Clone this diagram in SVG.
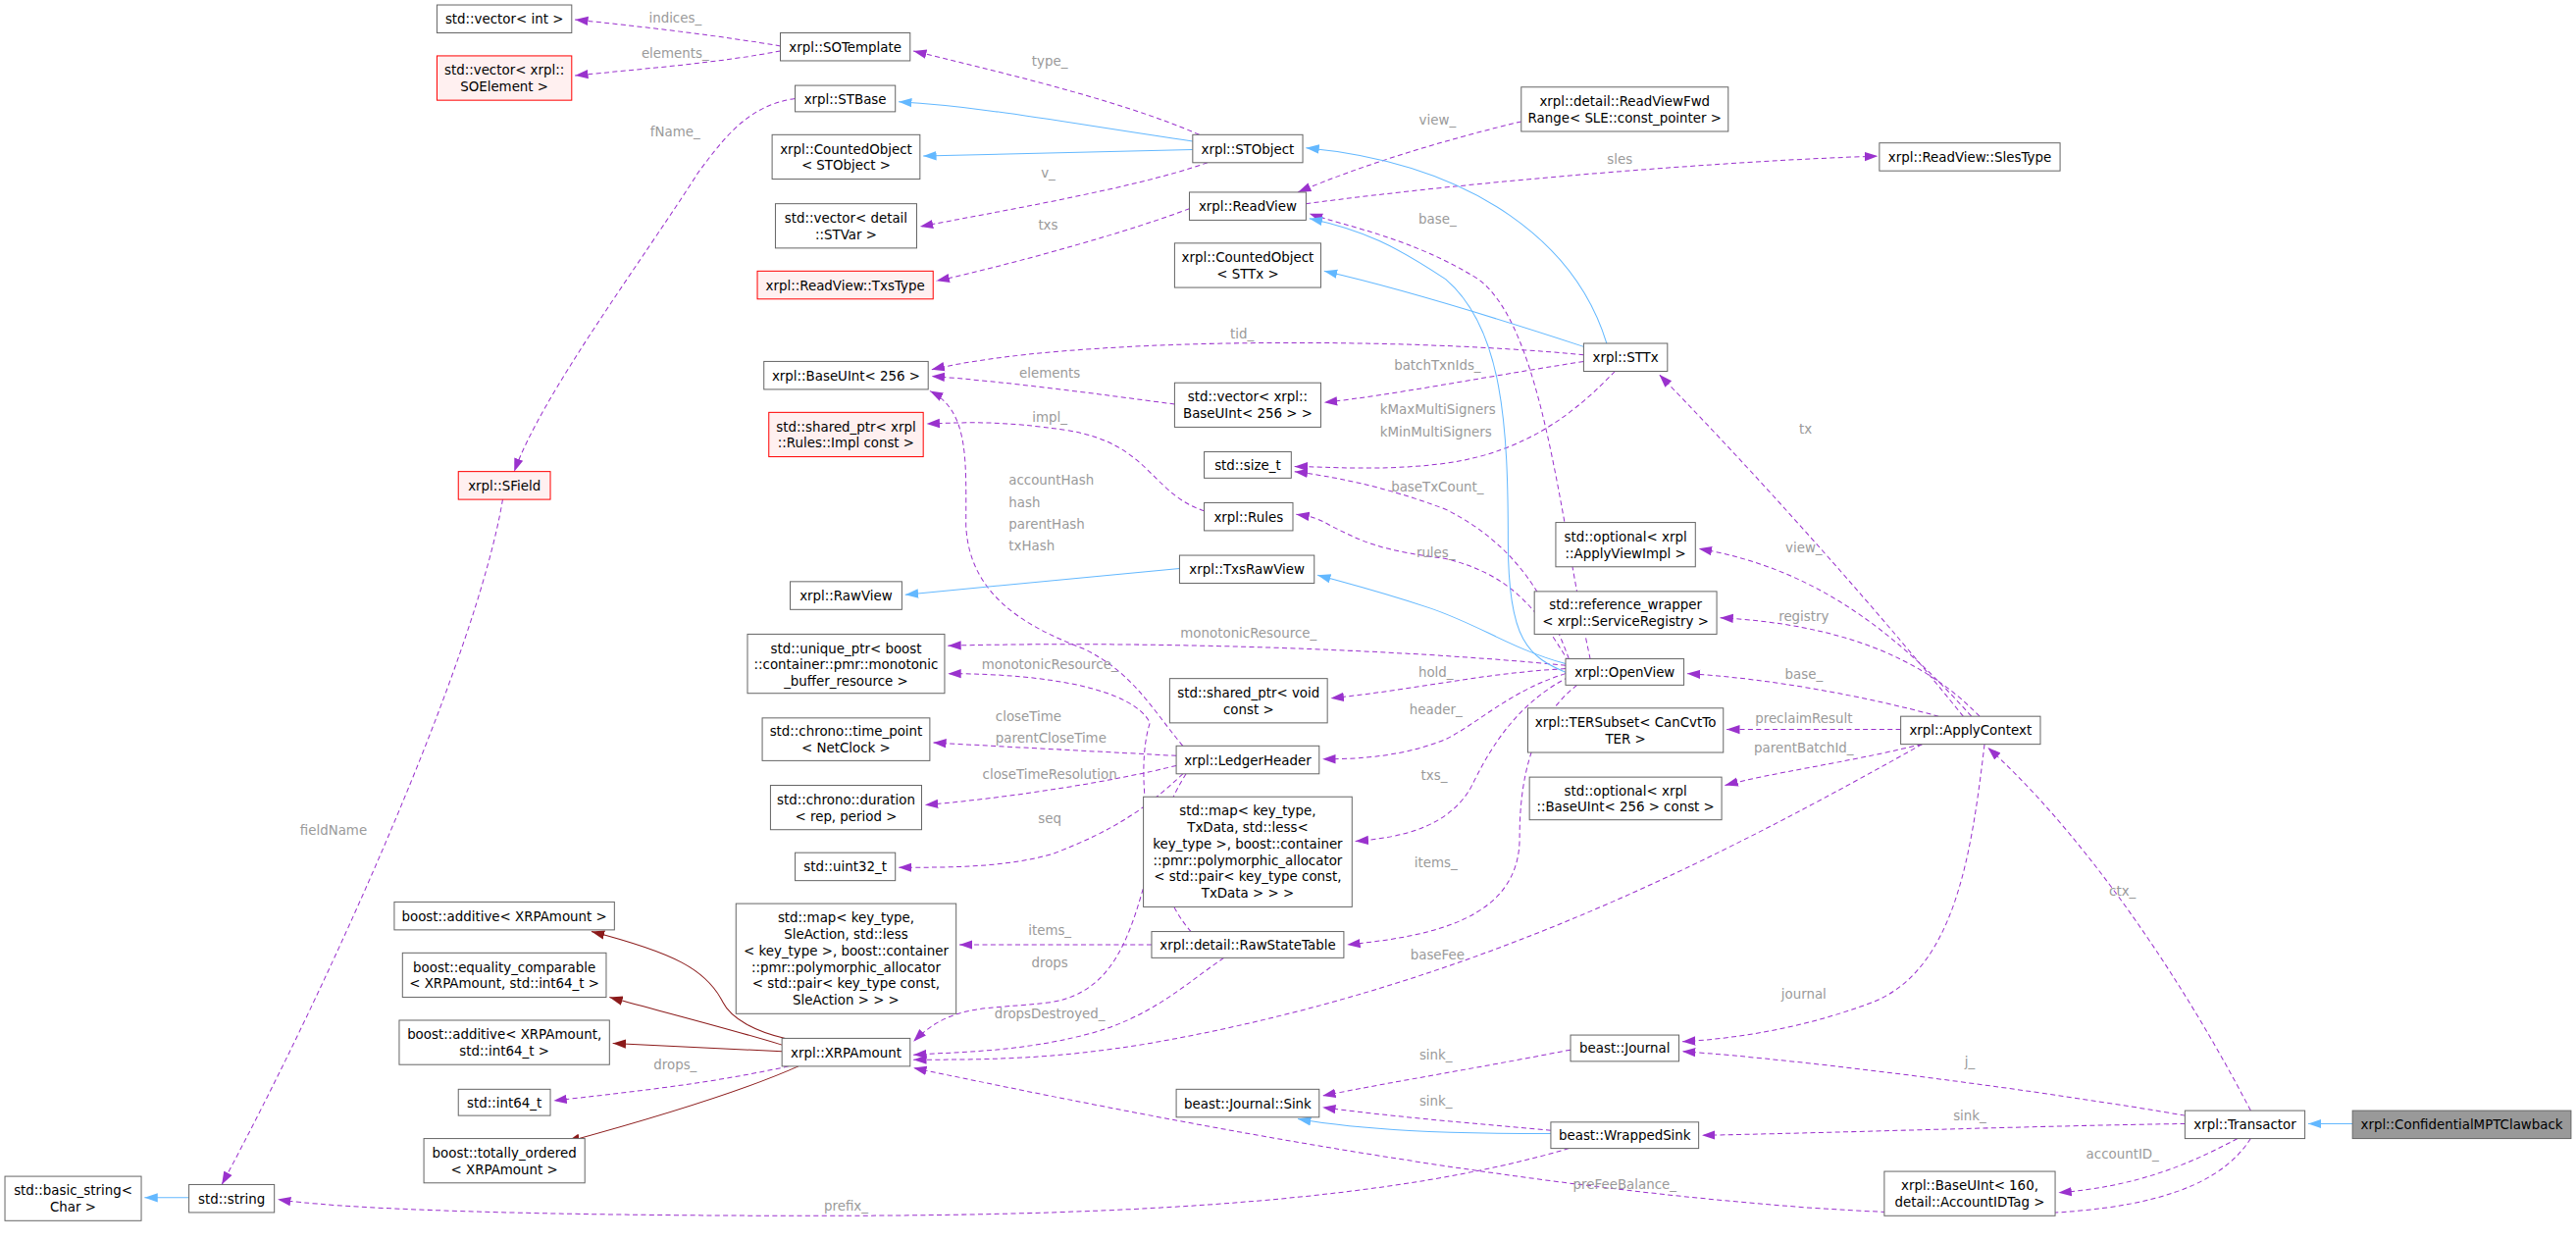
<svg xmlns="http://www.w3.org/2000/svg" width="2626" height="1265" viewBox="0 0 2626 1265">
<style>
.n rect{fill:#fff;stroke:#666;stroke-width:0.6}
.n.r rect{fill:#FFF0F0;stroke:#FF0000}
.n.g rect{fill:#999}
.n text{font-family:"DejaVu Sans",sans-serif;font-size:8px;fill:#000;text-anchor:middle}
.e path{fill:none;stroke-width:0.6}
.p{stroke:#9A32CD;stroke-dasharray:3,2}
.b{stroke:#63B8FF}
.d{stroke:#8B1A1A}
.l text{font-family:"DejaVu Sans",sans-serif;font-size:8px;fill:#9A9A9A;text-anchor:middle}
</style>
<defs>
<marker id="ap" markerUnits="userSpaceOnUse" viewBox="0 0 10 10" markerWidth="8" markerHeight="8" refX="10" refY="5" orient="auto"><path d="M0,1.5 L10,5 L0,8.5 z" fill="#9A32CD"/></marker>
<marker id="ab" markerUnits="userSpaceOnUse" viewBox="0 0 10 10" markerWidth="8" markerHeight="8" refX="10" refY="5" orient="auto"><path d="M0,1.5 L10,5 L0,8.5 z" fill="#63B8FF"/></marker>
<marker id="ad" markerUnits="userSpaceOnUse" viewBox="0 0 10 10" markerWidth="8" markerHeight="8" refX="10" refY="5" orient="auto"><path d="M0,1.5 L10,5 L0,8.5 z" fill="#8B1A1A"/></marker>
</defs>
<rect width="2626" height="1265" fill="#fff"/>
<g transform="scale(1.6747)">
<g id="edges" class="e">
<path class="p" marker-end="url(#ap)" d="M475,28 C440,22 390,16 350,12"/>
<path class="p" marker-end="url(#ap)" d="M475,31 C440,38 390,42 350,46"/>
<path class="p" marker-end="url(#ap)" d="M484,60 C455,64 440,85 425,105 C390,160 330,240 313,287"/>
<path class="p" marker-end="url(#ap)" d="M306,304 C290,400 200,600 135,721"/>
<path class="p" marker-end="url(#ap)" d="M730,82 C680,60 600,42 556,31"/>
<path class="p" marker-end="url(#ap)" d="M735,99 C690,115 600,130 560,138"/>
<path class="p" marker-end="url(#ap)" d="M724,127 C690,140 620,160 570,171"/>
<path class="p" marker-end="url(#ap)" d="M795,124 C900,110 1050,98 1143,95"/>
<path class="p" marker-end="url(#ap)" d="M926,74 C880,85 830,100 790,117"/>
<path class="p" marker-end="url(#ap)" d="M968,401 C950,320 940,200 900,170 C860,145 820,138 797,130"/>
<path class="p" marker-end="url(#ap)" d="M964,216 C850,205 650,205 567,225"/>
<path class="p" marker-end="url(#ap)" d="M964,220 C900,230 850,240 806,245"/>
<path class="p" marker-end="url(#ap)" d="M983,226 C960,250 930,275 880,282 C840,287 810,284 788,284"/>
<path class="p" marker-end="url(#ap)" d="M715,246 C670,240 610,232 567,229"/>
<path class="p" marker-end="url(#ap)" d="M733,311 C700,300 700,270 650,262 C610,256 590,257 564,258"/>
<path class="p" marker-end="url(#ap)" d="M720,454 C700,430 690,410 660,395 C620,380 590,360 588,320 C588,280 590,250 566,238"/>
<path class="p" marker-end="url(#ap)" d="M955,401 C940,360 920,330 880,310 C840,295 810,290 788,287"/>
<path class="p" marker-end="url(#ap)" d="M955,403 C935,370 920,350 880,340 C840,335 830,330 810,320 C800,314 795,314 789,313"/>
<path class="p" marker-end="url(#ap)" d="M953,405 C850,395 700,390 577,393"/>
<path class="p" marker-end="url(#ap)" d="M725,567 C700,540 690,470 700,440 C690,420 640,410 577,410"/>
<path class="p" marker-end="url(#ap)" d="M953,407 C900,410 860,420 810,425"/>
<path class="p" marker-end="url(#ap)" d="M953,410 C920,420 900,440 880,450 C850,462 820,462 805,462"/>
<path class="p" marker-end="url(#ap)" d="M716,460 C680,458 620,455 568,452"/>
<path class="p" marker-end="url(#ap)" d="M716,466 C680,475 620,485 563,490"/>
<path class="p" marker-end="url(#ap)" d="M720,471 C700,490 680,505 640,520 C610,528 580,528 547,528"/>
<path class="p" marker-end="url(#ap)" d="M955,412 C920,430 905,460 895,480 C880,505 850,510 825,512"/>
<path class="p" marker-end="url(#ap)" d="M960,417 C930,440 925,480 925,510 C925,560 870,570 820,575"/>
<path class="p" marker-end="url(#ap)" d="M701,575 L584,575"/>
<path class="p" marker-end="url(#ap)" d="M722,471 C690,520 700,600 640,610 C600,615 580,610 556,634"/>
<path class="p" marker-end="url(#ap)" d="M745,583 C720,600 700,620 660,630 C620,640 590,640 556,642"/>
<path class="p" marker-end="url(#ap)" d="M1170,453 C1050,520 900,600 700,635 C640,645 600,645 556,645"/>
<path class="p" marker-end="url(#ap)" d="M480,649 C430,660 380,665 337,670"/>
<path class="p" marker-end="url(#ap)" d="M955,699 C850,730 700,740 500,740 C300,740 200,735 169,730"/>
<path class="p" marker-end="url(#ap)" d="M1370,693 C1340,740 1250,745 1100,735 C900,720 700,680 556,650"/>
<path class="p" marker-end="url(#ap)" d="M1195,436 C1150,380 1080,300 1010,228"/>
<path class="p" marker-end="url(#ap)" d="M1200,436 C1150,380 1100,345 1034,334"/>
<path class="p" marker-end="url(#ap)" d="M1205,436 C1170,400 1120,380 1047,376"/>
<path class="p" marker-end="url(#ap)" d="M1180,436 C1140,425 1080,413 1027,410"/>
<path class="p" marker-end="url(#ap)" d="M1157,444 L1051,444"/>
<path class="p" marker-end="url(#ap)" d="M1170,453 C1120,465 1080,470 1050,478"/>
<path class="p" marker-end="url(#ap)" d="M1208,453 C1200,520 1190,590 1140,610 C1100,625 1060,632 1024,634"/>
<path class="p" marker-end="url(#ap)" d="M956,639 C900,650 850,658 805,667"/>
<path class="p" marker-end="url(#ap)" d="M944,688 C900,684 850,680 805,674"/>
<path class="p" marker-end="url(#ap)" d="M1370,676 C1320,580 1260,500 1210,455"/>
<path class="p" marker-end="url(#ap)" d="M1330,679 C1250,665 1100,645 1024,640"/>
<path class="p" marker-end="url(#ap)" d="M1330,684 C1250,685 1100,690 1036,691"/>
<path class="p" marker-end="url(#ap)" d="M1362,693 C1330,710 1300,722 1253,726"/>
<path class="b" marker-end="url(#ab)" d="M726,86 C650,75 600,65 547,62"/>
<path class="b" marker-end="url(#ab)" d="M726,91 L562,95"/>
<path class="b" marker-end="url(#ab)" d="M978,209 C960,150 900,100 795,90"/>
<path class="b" marker-end="url(#ab)" d="M964,211 C900,190 850,175 806,165"/>
<path class="b" marker-end="url(#ab)" d="M955,410 C930,400 918,390 918,330 C918,260 915,200 880,170 C850,150 830,140 797,133"/>
<path class="b" marker-end="url(#ab)" d="M953,404 C920,395 900,380 870,370 C840,360 820,355 802,350"/>
<path class="b" marker-end="url(#ab)" d="M718,346 L551,362"/>
<path class="b" marker-end="url(#ab)" d="M944,690 C880,690 830,688 790,681"/>
<path class="b" marker-end="url(#ab)" d="M1432,684 L1405,684"/>
<path class="b" marker-end="url(#ab)" d="M115,729 L88,729"/>
<path class="d" marker-end="url(#ad)" d="M478,632 C460,628 445,620 440,610 C430,590 410,580 360,567"/>
<path class="d" marker-end="url(#ad)" d="M476,636 C440,625 400,615 371,607"/>
<path class="d" marker-end="url(#ad)" d="M476,640 L373,635"/>
<path class="d" marker-end="url(#ad)" d="M486,649 C450,665 400,680 345,695"/>
</g>
<g id="labels" class="l">
<text x="411" y="14">indices_</text>
<text x="411" y="35">elements_</text>
<text x="411" y="83">fName_</text>
<text x="203" y="508">fieldName</text>
<text x="639" y="40">type_</text>
<text x="638" y="108">v_</text>
<text x="638" y="140">txs</text>
<text x="986" y="100">sles</text>
<text x="875" y="76">view_</text>
<text x="875" y="136">base_</text>
<text x="756" y="206">tid_</text>
<text x="875" y="225">batchTxnIds_</text>
<text x="840" y="252" style="text-anchor:start">kMaxMultiSigners</text>
<text x="840" y="266" style="text-anchor:start">kMinMultiSigners</text>
<text x="639" y="230">elements</text>
<text x="639" y="257">impl_</text>
<text x="614" y="295" style="text-anchor:start">accountHash</text>
<text x="614" y="309" style="text-anchor:start">hash</text>
<text x="614" y="322" style="text-anchor:start">parentHash</text>
<text x="614" y="335" style="text-anchor:start">txHash</text>
<text x="875" y="299">baseTxCount_</text>
<text x="874" y="339">rules_</text>
<text x="760" y="388">monotonicResource_</text>
<text x="639" y="407">monotonicResource_</text>
<text x="874" y="412">hold_</text>
<text x="874" y="435">header_</text>
<text x="606" y="439" style="text-anchor:start">closeTime</text>
<text x="606" y="452" style="text-anchor:start">parentCloseTime</text>
<text x="639" y="474">closeTimeResolution</text>
<text x="639" y="501">seq</text>
<text x="873" y="475">txs_</text>
<text x="874" y="528">items_</text>
<text x="639" y="569">items_</text>
<text x="639" y="589">drops</text>
<text x="639" y="620">dropsDestroyed_</text>
<text x="875" y="584">baseFee</text>
<text x="411" y="651">drops_</text>
<text x="515" y="737">prefix_</text>
<text x="989" y="724">preFeeBalance_</text>
<text x="1099" y="264">tx</text>
<text x="1098" y="336">view_</text>
<text x="1098" y="378">registry</text>
<text x="1098" y="413">base_</text>
<text x="1098" y="440">preclaimResult</text>
<text x="1098" y="458">parentBatchId_</text>
<text x="1098" y="608">journal</text>
<text x="874" y="645">sink_</text>
<text x="874" y="673">sink_</text>
<text x="1292" y="545">ctx_</text>
<text x="1199" y="649">j_</text>
<text x="1199" y="682">sink_</text>
<text x="1292" y="705">accountID_</text>
</g>
<g id="vecint" class="n"><rect x="266" y="3" width="82" height="17"/><text x="307" y="14.5">std::vector&lt; int &gt;</text></g>
<g id="vecSOElement" class="n r"><rect x="266" y="34" width="82" height="27"/><text x="307" y="45.5">std::vector&lt; xrpl::</text><text x="307" y="55.5">SOElement &gt;</text></g>
<g id="SOTemplate" class="n"><rect x="475" y="20" width="79" height="17"/><text x="514.5" y="31.5">xrpl::SOTemplate</text></g>
<g id="STBase" class="n"><rect x="484" y="52" width="61" height="16"/><text x="514.5" y="63">xrpl::STBase</text></g>
<g id="COSTObject" class="n"><rect x="470" y="82" width="90" height="27"/><text x="515" y="93.5">xrpl::CountedObject</text><text x="515" y="103.5">&lt; STObject &gt;</text></g>
<g id="vecSTVar" class="n"><rect x="472" y="124" width="86" height="27"/><text x="515" y="135.5">std::vector&lt; detail</text><text x="515" y="145.5">::STVar &gt;</text></g>
<g id="TxsType" class="n r"><rect x="461" y="165" width="107" height="17"/><text x="514.5" y="176.5">xrpl::ReadView::TxsType</text></g>
<g id="STObject" class="n"><rect x="726" y="82" width="67" height="17"/><text x="759.5" y="93.5">xrpl::STObject</text></g>
<g id="ReadView" class="n"><rect x="724" y="117" width="71" height="17"/><text x="759.5" y="128.5">xrpl::ReadView</text></g>
<g id="COSTTx" class="n"><rect x="715" y="148" width="89" height="27"/><text x="759.5" y="159.5">xrpl::CountedObject</text><text x="759.5" y="169.5">&lt; STTx &gt;</text></g>
<g id="ReadViewFwd" class="n"><rect x="926" y="53" width="126" height="27"/><text x="989" y="64.5">xrpl::detail::ReadViewFwd</text><text x="989" y="74.5">Range&lt; SLE::const_pointer &gt;</text></g>
<g id="SlesType" class="n"><rect x="1144" y="87" width="110" height="17"/><text x="1199" y="98.5">xrpl::ReadView::SlesType</text></g>
<g id="STTx" class="n"><rect x="964" y="209" width="51" height="17"/><text x="989.5" y="220.5">xrpl::STTx</text></g>
<g id="BaseUInt256" class="n"><rect x="465" y="220" width="100" height="17"/><text x="515" y="231.5">xrpl::BaseUInt&lt; 256 &gt;</text></g>
<g id="vecBaseUInt" class="n"><rect x="715" y="233" width="89" height="27"/><text x="759.5" y="244.5">std::vector&lt; xrpl::</text><text x="759.5" y="254.5">BaseUInt&lt; 256 &gt; &gt;</text></g>
<g id="spRules" class="n r"><rect x="468" y="251" width="94" height="27"/><text x="515" y="262.5">std::shared_ptr&lt; xrpl</text><text x="515" y="272.5">::Rules::Impl const &gt;</text></g>
<g id="sizet" class="n"><rect x="733" y="275" width="53" height="16"/><text x="759.5" y="286">std::size_t</text></g>
<g id="Rules" class="n"><rect x="733" y="306" width="54" height="17"/><text x="760" y="317.5">xrpl::Rules</text></g>
<g id="RawView" class="n"><rect x="481" y="354" width="68" height="17"/><text x="515" y="365.5">xrpl::RawView</text></g>
<g id="TxsRawView" class="n"><rect x="718" y="338" width="82" height="17"/><text x="759" y="349.5">xrpl::TxsRawView</text></g>
<g id="uniqueptr" class="n"><rect x="455" y="386" width="120" height="36"/><text x="515" y="397.5">std::unique_ptr&lt; boost</text><text x="515" y="407.5">::container::pmr::monotonic</text><text x="515" y="417.5">_buffer_resource &gt;</text></g>
<g id="optApplyViewImpl" class="n"><rect x="947" y="318" width="85" height="27"/><text x="989.5" y="329.5">std::optional&lt; xrpl</text><text x="989.5" y="339.5">::ApplyViewImpl &gt;</text></g>
<g id="refwrap" class="n"><rect x="934" y="360" width="111" height="26"/><text x="989.5" y="371">std::reference_wrapper</text><text x="989.5" y="381">&lt; xrpl::ServiceRegistry &gt;</text></g>
<g id="OpenView" class="n"><rect x="953" y="401" width="72" height="16"/><text x="989" y="412">xrpl::OpenView</text></g>
<g id="spvoid" class="n"><rect x="712" y="413" width="96" height="27"/><text x="760" y="424.5">std::shared_ptr&lt; void</text><text x="760" y="434.5">const &gt;</text></g>
<g id="timepoint" class="n"><rect x="464" y="437" width="102" height="26"/><text x="515" y="448">std::chrono::time_point</text><text x="515" y="458">&lt; NetClock &gt;</text></g>
<g id="LedgerHeader" class="n"><rect x="716" y="454" width="87" height="17"/><text x="759.5" y="465.5">xrpl::LedgerHeader</text></g>
<g id="duration" class="n"><rect x="469" y="478" width="92" height="27"/><text x="515" y="489.5">std::chrono::duration</text><text x="515" y="499.5">&lt; rep, period &gt;</text></g>
<g id="uint32" class="n"><rect x="484" y="519" width="61" height="17"/><text x="514.5" y="530.5">std::uint32_t</text></g>
<g id="TERSubset" class="n"><rect x="930" y="431" width="119" height="27"/><text x="989.5" y="442.5">xrpl::TERSubset&lt; CanCvtTo</text><text x="989.5" y="452.5">TER &gt;</text></g>
<g id="optBaseUInt" class="n"><rect x="931" y="473" width="117" height="26"/><text x="989.5" y="484">std::optional&lt; xrpl</text><text x="989.5" y="494">::BaseUInt&lt; 256 &gt; const &gt;</text></g>
<g id="ApplyContext" class="n"><rect x="1157" y="436" width="85" height="17"/><text x="1199.5" y="447.5">xrpl::ApplyContext</text></g>
<g id="mapTxData" class="n"><rect x="696" y="485" width="127" height="67"/><text x="759.5" y="496.5">std::map&lt; key_type,</text><text x="759.5" y="506.5">TxData, std::less&lt;</text><text x="759.5" y="516.5">key_type &gt;, boost::container</text><text x="759.5" y="526.5">::pmr::polymorphic_allocator</text><text x="759.5" y="536.5">&lt; std::pair&lt; key_type const,</text><text x="759.5" y="546.5">TxData &gt; &gt; &gt;</text></g>
<g id="SField" class="n r"><rect x="279" y="287" width="56" height="17"/><text x="307" y="298.5">xrpl::SField</text></g>
<g id="string" class="n"><rect x="115" y="721" width="52" height="17"/><text x="141" y="732.5">std::string</text></g>
<g id="basicstring" class="n"><rect x="3" y="716" width="83" height="27"/><text x="44.5" y="727.5">std::basic_string&lt;</text><text x="44.5" y="737.5">Char &gt;</text></g>
<g id="additive1" class="n"><rect x="240" y="549" width="134" height="17"/><text x="307" y="560.5">boost::additive&lt; XRPAmount &gt;</text></g>
<g id="equality" class="n"><rect x="245" y="580" width="124" height="27"/><text x="307" y="591.5">boost::equality_comparable</text><text x="307" y="601.5">&lt; XRPAmount, std::int64_t &gt;</text></g>
<g id="additive2" class="n"><rect x="243" y="621" width="128" height="27"/><text x="307" y="632.5">boost::additive&lt; XRPAmount,</text><text x="307" y="642.5">std::int64_t &gt;</text></g>
<g id="int64" class="n"><rect x="279" y="663" width="56" height="16"/><text x="307" y="674">std::int64_t</text></g>
<g id="totally" class="n"><rect x="258" y="693" width="98" height="27"/><text x="307" y="704.5">boost::totally_ordered</text><text x="307" y="714.5">&lt; XRPAmount &gt;</text></g>
<g id="mapSle" class="n"><rect x="448" y="550" width="134" height="67"/><text x="515" y="561.5">std::map&lt; key_type,</text><text x="515" y="571.5">SleAction, std::less</text><text x="515" y="581.5">&lt; key_type &gt;, boost::container</text><text x="515" y="591.5">::pmr::polymorphic_allocator</text><text x="515" y="601.5">&lt; std::pair&lt; key_type const,</text><text x="515" y="611.5">SleAction &gt; &gt; &gt;</text></g>
<g id="RawStateTable" class="n"><rect x="701" y="567" width="117" height="16"/><text x="759.5" y="578">xrpl::detail::RawStateTable</text></g>
<g id="XRPAmount" class="n"><rect x="476" y="632" width="78" height="17"/><text x="515" y="643.5">xrpl::XRPAmount</text></g>
<g id="Journal" class="n"><rect x="956" y="630" width="66" height="16"/><text x="989" y="641">beast::Journal</text></g>
<g id="Sink" class="n"><rect x="716" y="663" width="87" height="17"/><text x="759.5" y="674.5">beast::Journal::Sink</text></g>
<g id="WrappedSink" class="n"><rect x="944" y="683" width="90" height="16"/><text x="989" y="694">beast::WrappedSink</text></g>
<g id="Transactor" class="n"><rect x="1330" y="676" width="73" height="17"/><text x="1366.5" y="687.5">xrpl::Transactor</text></g>
<g id="Clawback" class="n g"><rect x="1432" y="676" width="133" height="17"/><text x="1498.5" y="687.5">xrpl::ConfidentialMPTClawback</text></g>
<g id="BaseUInt160" class="n"><rect x="1147" y="713" width="104" height="27"/><text x="1199" y="724.5">xrpl::BaseUInt&lt; 160,</text><text x="1199" y="734.5">detail::AccountIDTag &gt;</text></g>
</g>
</svg>
